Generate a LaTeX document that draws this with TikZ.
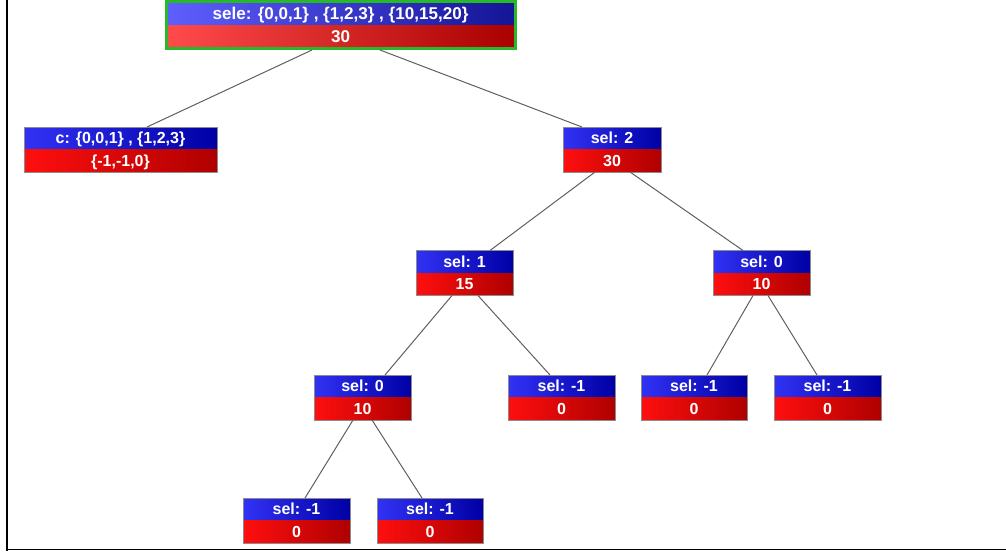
\documentclass[tikz,border=0pt]{standalone}
\usepackage{fontspec}
\setmainfont{Liberation Sans}
\usetikzlibrary{calc}
\definecolor{bluL}{RGB}{50,50,245}
\definecolor{bluR}{RGB}{0,0,165}
\definecolor{redL}{RGB}{255,15,15}
\definecolor{redR}{RGB}{175,0,0}
\definecolor{rbluL}{RGB}{95,95,255}
\definecolor{rbluR}{RGB}{20,20,150}
\definecolor{rredL}{RGB}{255,75,75}
\definecolor{rredR}{RGB}{170,0,0}
\definecolor{edgegray}{RGB}{95,95,95}
\definecolor{rootgreen}{RGB}{40,185,40}
\tikzset{
  box/.style={rectangle, inner sep=0pt, outer sep=0pt, minimum height=33.75pt,
    draw=black!45, line width=0.4pt,
    path picture={
      \shade[left color=bluL, right color=bluR] (path picture bounding box.north west) rectangle (path picture bounding box.east);
      \shade[left color=redL, right color=redR] (path picture bounding box.west) rectangle (path picture bounding box.south east);}},
  rootbox/.style={rectangle, inner sep=0pt, outer sep=0pt, minimum height=35.25pt,
    draw=rootgreen, line width=2.25pt,
    path picture={
      \shade[left color=rbluL, right color=rbluR] (path picture bounding box.north west) rectangle (path picture bounding box.east);
      \shade[left color=rredL, right color=rredR] (path picture bounding box.west) rectangle (path picture bounding box.south east);}},
  lbl/.style={text=white, font=\bfseries\fontsize{12}{14}\selectfont, inner sep=0pt,
    text height=8.6pt, text depth=0pt},
  rootlbl/.style={lbl, font=\bfseries\fontsize{12.8}{14}\selectfont, text height=9.2pt},
  edge/.style={draw=edgegray, line width=0.75pt},
  frame/.style={draw=black},
}
\newcommand\tnode[9]{%
  \node[#7, minimum width=#4*0.75pt] (#1) at (#2,#3) {};
  \node[#9] (#1-t) at ($(#1.center)+(0,-#8)$) {#5};
  \node[#9] (#1-b) at ($(#1.center)+(0,#8)$) {#6};
}
\begin{document}
\begin{tikzpicture}[x=0.75pt,y=-0.75pt]
\useasboundingbox (0,0) rectangle (1006,551);
\coordinate (fa) at (7,0);
\coordinate (fb) at (7,549.5);
\coordinate (fc) at (1006,549.5);
\draw[frame, line width=1.6pt] (fa) -- (7,551);
\draw[frame, line width=1pt] (fb) -- (fc);

\tnode{root}{340.5}{25}{349}{sele: \{0,0,1\} , \{1,2,3\} , \{10,15,20\}}{30}{rootbox}{11.75}{rootlbl}
\tnode{c}{120.5}{149.5}{193}{c: \{0,0,1\} , \{1,2,3\}}{\{-1,-1,0\}}{box}{11.25}{lbl}
\tnode{s2}{612}{149.5}{98}{sel: 2}{30}{box}{11.25}{lbl}
\tnode{s1}{464.5}{273}{97}{sel: 1}{15}{box}{11.25}{lbl}
\tnode{s0r}{761.5}{273}{97}{sel: 0}{10}{box}{11.25}{lbl}
\tnode{s0l}{362.5}{397.5}{97}{sel: 0}{10}{box}{11.25}{lbl}
\tnode{m1}{561.5}{397.5}{107}{sel: -1}{0}{box}{11.25}{lbl}
\tnode{m2}{694}{397.5}{106}{sel: -1}{0}{box}{11.25}{lbl}
\tnode{m3}{827.5}{397.5}{107}{sel: -1}{0}{box}{11.25}{lbl}
\tnode{b1}{296.5}{520.5}{107}{sel: -1}{0}{box}{11.25}{lbl}
\tnode{b2}{430}{520.5}{106}{sel: -1}{0}{box}{11.25}{lbl}

\draw[edge] ($(root.south)+(-28.5,1.5)$) -- ($(c.north)+(26.5,0)$);
\draw[edge] ($(root.south)+(39.5,1.5)$) -- ($(s2.north)+(-30,0)$);
\draw[edge] ($(s2.south)+(-17,0)$) -- ($(s1.north)+(25.5,0)$);
\draw[edge] ($(s2.south)+(18,0)$) -- ($(s0r.north)+(-18.5,0)$);
\draw[edge] ($(s1.south)+(-12.5,0)$) -- ($(s0l.north)+(22.5,0)$);
\draw[edge] ($(s1.south)+(13.5,0)$) -- ($(m1.north)+(-11.5,0)$);
\draw[edge] ($(s0r.south)+(-8.5,0)$) -- ($(m2.north)+(13,0)$);
\draw[edge] ($(s0r.south)+(6.5,0)$) -- ($(m3.north)+(-10.5,0)$);
\draw[edge] ($(s0l.south)+(-9.5,0)$) -- ($(b1.north)+(8.5,0)$);
\draw[edge] ($(s0l.south)+(9.5,0)$) -- ($(b2.north)+(-8,0)$);
\end{tikzpicture}
\end{document}
